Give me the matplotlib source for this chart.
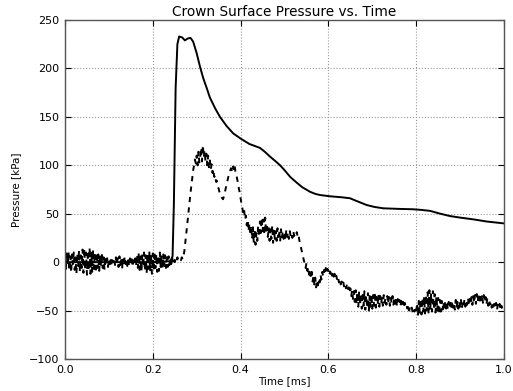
import numpy as np
import matplotlib
matplotlib.use('Agg')
import matplotlib.pyplot as plt

# crown surface pressure, solid trace (time in ms, pressure in kPa)
solid_t = [0.0, 0.10, 0.20, 0.24, 0.245, 0.248, 0.252, 0.256, 0.260, 0.267,
           0.273, 0.280, 0.286, 0.292, 0.300, 0.3075, 0.315, 0.323, 0.330,
           0.342, 0.353, 0.368, 0.383, 0.399, 0.420, 0.444, 0.455, 0.467,
           0.480, 0.490, 0.500, 0.513, 0.528, 0.540, 0.558, 0.570, 0.581,
           0.604, 0.630, 0.649, 0.665, 0.687, 0.705, 0.725, 0.760, 0.793,
           0.810, 0.831, 0.855, 0.877, 0.900, 0.930, 0.960, 1.0]
solid_p = [0, 0, 0, 1, 6, 60, 180, 225, 233, 232,
           229, 231, 231.5, 227.6, 215.6, 201.8, 189.8, 179.5, 170,
           158.8, 150, 140.6, 133, 127.9, 122, 118, 114, 109,
           104, 100, 95, 88, 82, 77.5, 72.7, 70.5, 69.3,
           68, 67, 66, 63, 59, 57, 55.6, 55, 54.6,
           54, 53, 50, 47.6, 46, 44.2, 42, 40]

# dashed trace, sampled every 0.002 ms from 0 to 1 ms
dashed_p = [
    4, -7, 9, -3, 11, -9, 6, -11, 8, -2,
    10, -8, 5, -12, 9, -4, 12, -10, 7, -6,
    13, -11, 14, -8, 10, -13, 12, -9, 15, -12,
    11, -10, 13, -7, 9, -11, 10, -6, 8, -9,
    7, -5, 9, -6, 5, -8, 6, -3, 4, -5,
    3, -2, 4, -4, 2, -1, 3, -3, 5, -2,
    4, -5, 6, -3, 5, -7, 4, -4, 6, -2,
    3, -4, 2, -3, 4, -1, 3, -5, 2, -2,
    4, -3, 7, -6, 9, -8, 6, -10, 8, -5,
    10, -9, 7, -11, 9, -7, 11, -10, 8, -12,
    9, -8, 11, -6, 8, -10, 7, -9, 10, -5,
    6, -7, 8, -4, 7, -6, 5, -5, 6, -3,
    4, -2, 5, -1, 3, 0, 4, 1, 5, 2,
    3, 4, 2, 5, 3, 6, 12, 20, 28, 37,
    46, 55, 64, 72, 80, 88, 95, 100, 106, 102,
    110, 100, 114, 103, 108, 118, 104, 121, 108, 115,
    104, 112, 100, 110, 98, 105, 96, 101, 92, 96,
    88, 90, 83, 84, 78, 76, 72, 70, 68, 66,
    65, 68, 72, 76, 80, 84, 88, 91, 94, 97,
    95, 100, 96, 101, 94, 92, 86, 82, 76, 72,
    66, 60, 56, 50, 54, 44, 48, 38, 44, 32,
    40, 28, 38, 24, 36, 20, 34, 18, 30, 22,
    38, 26, 42, 30, 46, 32, 44, 28, 46, 30,
    40, 26, 36, 22, 34, 24, 38, 20, 34, 24,
    32, 22, 35, 26, 33, 21, 34, 25, 32, 24,
    30, 23, 33, 26, 31, 24, 32, 27, 30, 25,
    32, 27, 30, 28, 31, 26, 28, 22, 18, 14,
    10, 6, 2, -2, -6, -1, -9, -5, -13, -8,
    -16, -10, -20, -14, -23, -16, -26, -19, -24, -17,
    -21, -13, -18, -10, -15, -8, -13, -6, -11, -7,
    -9, -6, -12, -8, -14, -10, -15, -12, -17, -14,
    -19, -16, -21, -18, -23, -20, -24, -21, -26, -23,
    -27, -24, -29, -26, -32, -27, -35, -29, -38, -30,
    -41, -29, -43, -31, -46, -30, -44, -33, -48, -31,
    -45, -30, -49, -34, -47, -32, -51, -35, -46, -33,
    -48, -34, -45, -31, -47, -36, -44, -33, -46, -35,
    -43, -36, -45, -34, -42, -37, -44, -35, -43, -36,
    -45, -37, -42, -35, -44, -38, -43, -36, -45, -38,
    -44, -39, -46, -40, -45, -41, -47, -42, -46, -44,
    -48, -44, -50, -46, -49, -47, -52, -48, -51, -49,
    -53, -42, -55, -40, -52, -38, -54, -37, -51, -36,
    -53, -34, -50, -31, -52, -29, -49, -32, -51, -30,
    -48, -33, -52, -35, -50, -37, -54, -39, -51, -40,
    -49, -41, -50, -40, -48, -42, -49, -41, -47, -42,
    -48, -40, -47, -42, -49, -39, -46, -41, -48, -40,
    -46, -39, -48, -41, -45, -38, -46, -40, -44, -37,
    -45, -38, -43, -36, -44, -35, -42, -34, -43, -33,
    -41, -32, -43, -35, -40, -33, -42, -34, -41, -36,
    -43, -37, -45, -39, -44, -41, -47, -42, -46, -43,
    -48, -42, -49, -44, -47, -43, -50, -45, -48, -46,
    -47]
dashed_t = np.linspace(0.0, 1.0, len(dashed_p))

xticks = [0.0, 0.2, 0.4, 0.6, 0.8, 1.0]
yticks = [-100, -50, 0, 50, 100, 150, 200, 250]

fig = plt.figure(figsize=(5.13, 3.91), dpi=100)
ax = fig.add_axes([0.1267, 0.0818, 0.8558, 0.867])

ax.plot(solid_t, solid_p, '-k', linewidth=1.4)
ax.plot(dashed_t, dashed_p, '--k', linewidth=1.4, dashes=(2.7, 2.7))

ax.set_xlim(0, 1.0)
ax.set_ylim(-100, 250)
ax.set_xticks(xticks)
ax.set_yticks(yticks)
ax.grid(True, color='#999999', linestyle=':', linewidth=0.8)
ax.tick_params(direction='in', top=True, right=True, labelsize=8, length=4, pad=4)
for s in ax.spines.values():
    s.set_color('#555555')
    s.set_linewidth(1.0)

ax.set_title('Crown Surface Pressure vs. Time', fontsize=9.8, pad=3)
ax.set_xlabel('Time [ms]', fontsize=7.5, labelpad=1)
ax.set_ylabel('Pressure [kPa]', fontsize=7.5, labelpad=6)

fig.savefig('out.png', dpi=100)
